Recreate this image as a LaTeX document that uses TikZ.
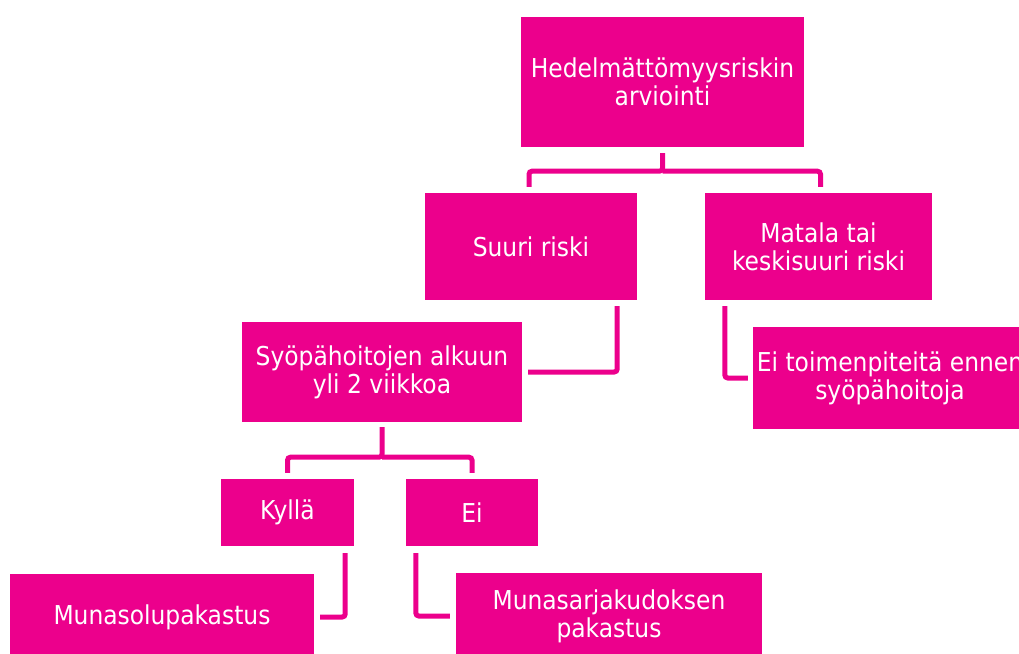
\documentclass[tikz,border=0pt]{standalone}
\usepackage{fontspec}
\setmainfont{DejaVu Sans Condensed}
\usetikzlibrary{calc}
\definecolor{pinkbox}{RGB}{236,0,140}

\begin{document}
\begin{tikzpicture}[x=1pt, y=-1pt]
%styles des noeuds
\tikzstyle{box}=[rectangle, fill=pinkbox, text=white, align=center, inner sep=0pt, font=\fontsize{26}{28}\selectfont]
\tikzstyle{link}=[draw=pinkbox, line width=5pt, rounded corners=3pt]

\useasboundingbox (0,0) rectangle (1019,653);
\clip (0,0) rectangle (1019,653);

%boites
\node[box, minimum width=283pt, minimum height=130pt] (risk) at (662.5,82) {Hedelmättömyysriskin\\arviointi};
\node[box, minimum width=212pt, minimum height=107pt] (high) at (531,246.5) {Suuri riski};
\node[box, minimum width=227pt, minimum height=107pt] (low) at (818.5,246.5) {Matala tai\\keskisuuri riski};
\node[box, minimum width=280pt, minimum height=100pt] (start) at (382,372) {Syöpähoitojen alkuun\\yli 2 viikkoa};
\node[box, minimum width=274pt, minimum height=102pt] (none) at (890,378) {Ei toimenpiteitä ennen\\syöpähoitoja};
\node[box, minimum width=133pt, minimum height=67pt] (yes) at (287.5,512.5) {Kyllä};
\node[box, minimum width=132pt, minimum height=67pt] (no) at (472,512.5) {Ei};
\node[box, minimum width=304pt, minimum height=86pt] (eggs) at (162,617) {Munasolupakastus};
\node[box, minimum width=306pt, minimum height=86pt] (tissue) at (609,616) {Munasarjakudoksen\\pakastus};

%liens
\draw[link] ($(risk.south)+(0,6)$) -- ($(risk.south)+(0,24)$) -| ($(high.north)+(-2,-6)$);
\draw[link] ($(risk.south)+(0,24)$) -| ($(low.north)+(2,-6)$);
\draw[link] ($(high.south east)+(-20,6)$) |- ($(start.east)+(6,0)$);
\draw[link] ($(low.south west)+(20,6)$) |- ($(none.west)+(-5,0)$);
\draw[link] ($(start.south)+(0,5)$) -- ($(start.south)+(0,35)$) -| ($(yes.north)+(0,-6)$);
\draw[link] ($(start.south)+(0,35)$) -| ($(no.north)+(0,-6)$);
\draw[link] ($(yes.south east)+(-9,7)$) |- ($(eggs.east)+(6,0)$);
\draw[link] ($(no.south west)+(10,7)$) |- ($(tissue.west)+(-6,0)$);

\end{tikzpicture}
\end{document}
